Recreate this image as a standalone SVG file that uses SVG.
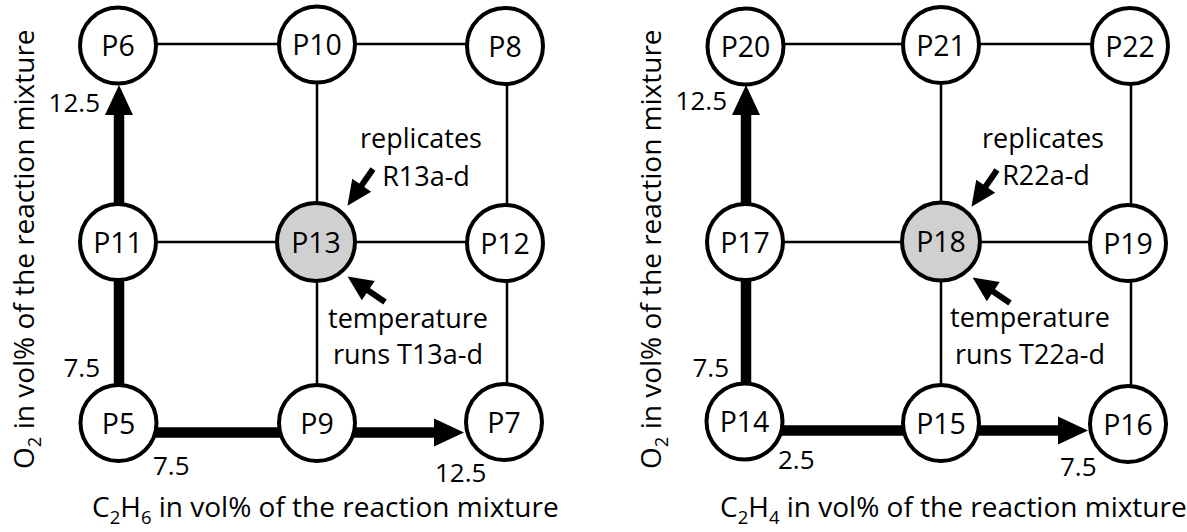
<svg xmlns="http://www.w3.org/2000/svg" width="1187" height="532" viewBox="0 0 1187 532">
<style>
text{font-family:"Open Sans","Liberation Sans",sans-serif;fill:#000}
.node circle{fill:#fff;stroke:#000;stroke-width:4}
.node.hl circle{fill:#d0d0d0}
.node text{font-size:28.5px;text-anchor:middle}
.thin{stroke:#000;stroke-width:2.5;fill:none}
.thick{stroke:#000;stroke-width:10.5;fill:none}
.ann{stroke:#000;stroke-width:6;fill:none}
.num{font-size:26px}
.note{font-size:27px;text-anchor:middle}
.axis{font-size:28px}
.sub{font-size:18.5px}
</style>
<defs>
<marker id="bigArrow" markerUnits="userSpaceOnUse" markerWidth="30" markerHeight="28" refX="10" refY="14" orient="auto" overflow="visible">
<path d="M0,0 L30,14 L0,28 Z" fill="#000"/>
</marker>
<marker id="smallArrow" markerUnits="userSpaceOnUse" markerWidth="25" markerHeight="23" refX="10" refY="11.5" orient="auto" overflow="visible">
<path d="M0,0 L25,11.5 L0,23 Z" fill="#000"/>
</marker>
</defs>

<g id="connectors">
<line class="thin" x1="118" y1="44" x2="317" y2="44"/>
<line class="thin" x1="317" y1="44" x2="506" y2="44"/>
<line class="thin" x1="118" y1="242" x2="317" y2="242"/>
<line class="thin" x1="317" y1="242" x2="506" y2="242"/>
<line class="thin" x1="317" y1="45" x2="317" y2="242"/>
<line class="thin" x1="317" y1="242" x2="317" y2="423"/>
<line class="thin" x1="507" y1="46" x2="507" y2="243"/>
<line class="thin" x1="507" y1="243" x2="507" y2="422"/>
<line class="thick" x1="119" y1="423" x2="119" y2="242"/>
<line class="thick" x1="119" y1="242" x2="119" y2="105" marker-end="url(#bigArrow)"/>
<line class="thick" x1="118" y1="432.5" x2="317" y2="432.5"/>
<line class="thick" x1="317" y1="432.5" x2="444" y2="432.5" marker-end="url(#bigArrow)"/>
<line class="ann" x1="373" y1="169" x2="356" y2="193.5" marker-end="url(#smallArrow)"/>
<line class="ann" x1="385" y1="302" x2="360" y2="285" marker-end="url(#smallArrow)"/>

<line class="thin" x1="745" y1="44" x2="941" y2="44"/>
<line class="thin" x1="941" y1="44" x2="1131" y2="44"/>
<line class="thin" x1="745" y1="242" x2="941" y2="242"/>
<line class="thin" x1="941" y1="242" x2="1131" y2="242"/>
<line class="thin" x1="941" y1="46" x2="941" y2="242"/>
<line class="thin" x1="941" y1="242" x2="941" y2="423"/>
<line class="thin" x1="1131" y1="46" x2="1131" y2="243"/>
<line class="thin" x1="1131" y1="243" x2="1131" y2="424"/>
<line class="thick" x1="746" y1="422" x2="746" y2="242"/>
<line class="thick" x1="746" y1="242" x2="746" y2="105" marker-end="url(#bigArrow)"/>
<line class="thick" x1="745" y1="430.5" x2="941" y2="430.5"/>
<line class="thick" x1="941" y1="430.5" x2="1068" y2="430.5" marker-end="url(#bigArrow)"/>
<line class="ann" x1="997" y1="170" x2="980" y2="194.5" marker-end="url(#smallArrow)"/>
<line class="ann" x1="1010" y1="303" x2="985" y2="286" marker-end="url(#smallArrow)"/>
</g>

<g id="P6" class="node"><circle cx="118" cy="45.5" r="38"/><text x="118" y="56">P6</text></g>
<g id="P10" class="node"><circle cx="317" cy="44.5" r="38"/><text x="317" y="55">P10</text></g>
<g id="P8" class="node"><circle cx="505" cy="46" r="38"/><text x="505" y="56.5">P8</text></g>
<g id="P11" class="node"><circle cx="118" cy="242" r="38"/><text x="118" y="252.5">P11</text></g>
<g id="P13" class="node hl"><circle cx="316" cy="242" r="39"/><text x="316" y="252.5">P13</text></g>
<g id="P12" class="node"><circle cx="505" cy="243" r="38"/><text x="505" y="253.5">P12</text></g>
<g id="P5" class="node"><circle cx="118.5" cy="423" r="38"/><text x="118.5" y="433.5">P5</text></g>
<g id="P9" class="node"><circle cx="317" cy="423" r="38"/><text x="317" y="433.5">P9</text></g>
<g id="P7" class="node"><circle cx="504" cy="422" r="38"/><text x="504" y="432.5">P7</text></g>

<g id="P20" class="node"><circle cx="745.5" cy="46.5" r="38"/><text x="745.5" y="57">P20</text></g>
<g id="P21" class="node"><circle cx="941" cy="45" r="38"/><text x="941" y="55.5">P21</text></g>
<g id="P22" class="node"><circle cx="1130" cy="46" r="38"/><text x="1130" y="56.5">P22</text></g>
<g id="P17" class="node"><circle cx="745" cy="242" r="38"/><text x="745" y="252.5">P17</text></g>
<g id="P18" class="node hl"><circle cx="941" cy="241.5" r="39"/><text x="941" y="252">P18</text></g>
<g id="P19" class="node"><circle cx="1128" cy="243" r="38"/><text x="1128" y="253.5">P19</text></g>
<g id="P14" class="node"><circle cx="744.5" cy="421.5" r="38"/><text x="744.5" y="432">P14</text></g>
<g id="P15" class="node"><circle cx="941" cy="423" r="38"/><text x="941" y="433.5">P15</text></g>
<g id="P16" class="node"><circle cx="1128" cy="424" r="38"/><text x="1128" y="434.5">P16</text></g>

<g id="labels-left">
<text class="note" x="421" y="148">replicates</text>
<text class="note" x="426" y="186">R13a-d</text>
<text class="note" x="408" y="328">temperature</text>
<text class="note" x="408" y="364">runs T13a-d</text>
<text class="num" x="100" y="111.5" text-anchor="end">12.5</text>
<text class="num" x="100" y="376.5" text-anchor="end">7.5</text>
<text class="num" x="153" y="475" text-anchor="start">7.5</text>
<text class="num" x="435" y="481.5" text-anchor="start">12.5</text>
<text class="axis" x="92" y="517">C<tspan class="sub" dy="7">2</tspan><tspan dy="-7">H</tspan><tspan class="sub" dy="7">6</tspan><tspan dy="-7"> in vol% of the reaction mixture</tspan></text>
<text class="axis" transform="translate(34,469) rotate(-90)">O<tspan class="sub" dy="7">2</tspan><tspan dy="-7"> in vol% of the reaction mixture</tspan></text>
</g>
<g id="labels-right">
<text class="note" x="1043" y="148">replicates</text>
<text class="note" x="1046" y="185">R22a-d</text>
<text class="note" x="1030" y="327">temperature</text>
<text class="note" x="1030" y="364">runs T22a-d</text>
<text class="num" x="727" y="110" text-anchor="end">12.5</text>
<text class="num" x="729" y="377" text-anchor="end">7.5</text>
<text class="num" x="778" y="469" text-anchor="start">2.5</text>
<text class="num" x="1060" y="476" text-anchor="start">7.5</text>
<text class="axis" x="720" y="517">C<tspan class="sub" dy="7">2</tspan><tspan dy="-7">H</tspan><tspan class="sub" dy="7">4</tspan><tspan dy="-7"> in vol% of the reaction mixture</tspan></text>
<text class="axis" transform="translate(661,469) rotate(-90)">O<tspan class="sub" dy="7">2</tspan><tspan dy="-7"> in vol% of the reaction mixture</tspan></text>
</g>
</svg>
